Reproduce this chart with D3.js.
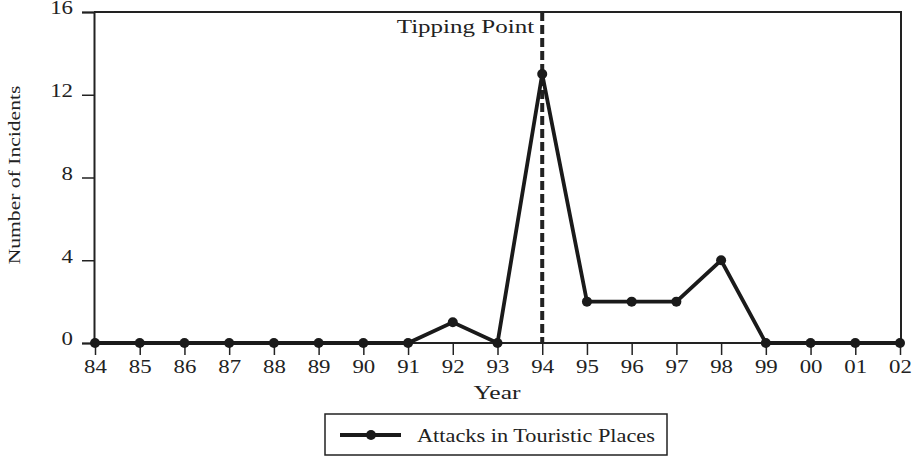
<!DOCTYPE html>
<html>
<head>
<script src="https://d3js.org/d3.v7.min.js"></script>
<style>
  body { margin: 0; background: white; }
  text { font-family: "Liberation Serif", "DejaVu Serif", serif; fill: #222; }
</style>
</head>
<body>
<svg width="913" height="458"></svg>
<script>
// chart data
var years = ["84","85","86","87","88","89","90","91","92","93","94","95","96","97","98","99","00","01","02"];
var incidents = [0,0,0,0,0,0,0,0,1,0,13,2,2,2,4,0,0,0,0];
var yTicks = [0,4,8,12,16];
var tippingYear = "94";
var seriesName = "Attacks in Touristic Places";

var svg = d3.select("svg");
var pLeft = 94, pRight = 901, pTop = 12, pBottom = 343;

var xs = d3.scalePoint().domain(years).range([pLeft + 1, pRight - 1]);
var ys = d3.scaleLinear().domain([0,16]).range([pBottom, pTop]);

// widen the text horizontally like the source (the type there is set wide)
function widen(sel, factor) {
    factor = factor || 1.27;
    sel.each(function() {
        var w = this.getComputedTextLength();
        d3.select(this).attr("textLength", w * factor).attr("lengthAdjust", "spacingAndGlyphs");
    });
}

// frame (top and right)
svg.append("path")
   .attr("d", "M" + pLeft + "," + pTop + "H" + pRight + "V" + pBottom)
   .attr("fill", "none")
   .attr("stroke", "#222")
   .attr("stroke-width", 2);

// y axis
var yAxis = svg.append("g")
   .attr("transform", "translate(" + pLeft + ",0)")
   .call(d3.axisLeft(ys).tickValues(yTicks).tickSize(12).tickPadding(9));
yAxis.select(".domain").attr("stroke", "#222").attr("stroke-width", 2);
yAxis.selectAll(".tick line").attr("stroke", "#222").attr("stroke-width", 1.5);
yAxis.selectAll(".tick text")
   .style("font-family", "Liberation Serif, serif")
   .style("font-size", "18px")
   .attr("fill", "#222")
   .attr("dy", "0.1em")
   .call(widen);

// x axis
var xAxis = svg.append("g")
   .attr("transform", "translate(0," + pBottom + ")")
   .call(d3.axisBottom(xs).tickSize(12).tickPadding(5));
xAxis.select(".domain").attr("d", "M" + pLeft + ",0H" + pRight).attr("stroke", "#222").attr("stroke-width", 2);
xAxis.selectAll(".tick line").attr("stroke", "#222").attr("stroke-width", 1.5);
xAxis.selectAll(".tick text")
   .style("font-family", "Liberation Serif, serif")
   .style("font-size", "18px")
   .attr("fill", "#222")
   .call(widen);

// axis titles
svg.append("text")
   .attr("x", 497).attr("y", 399)
   .attr("text-anchor", "middle")
   .style("font-size", "18px")
   .text("Year")
   .call(widen, 1.42);

svg.append("text")
   .attr("transform", "translate(20,175) rotate(-90)")
   .attr("text-anchor", "middle")
   .style("font-size", "17px")
   .text("Number of Incidents")
   .call(widen);

// tipping point
svg.append("line")
   .attr("x1", xs(tippingYear)).attr("x2", xs(tippingYear))
   .attr("y1", pTop).attr("y2", pBottom)
   .attr("stroke", "#222")
   .attr("stroke-width", 4)
   .attr("stroke-dasharray", "9,4");

svg.append("text")
   .attr("x", xs(tippingYear) - 8).attr("y", 33)
   .attr("text-anchor", "end")
   .style("font-size", "18px")
   .text("Tipping Point")
   .call(widen, 1.39);

// series line
var line = d3.line()
   .x(function(d, i) { return xs(years[i]); })
   .y(function(d) { return ys(d); });

svg.append("path")
   .datum(incidents)
   .attr("d", line)
   .attr("fill", "none")
   .attr("stroke", "#1a1a1a")
   .attr("stroke-width", 3.8)
   .attr("stroke-linejoin", "miter");

svg.append("g").selectAll("circle")
   .data(incidents)
   .enter()
   .append("circle")
   .attr("cx", function(d, i) { return xs(years[i]); })
   .attr("cy", function(d) { return ys(d); })
   .attr("r", 5)
   .attr("fill", "#1a1a1a");

// legend
var lg = svg.append("g");
lg.append("rect")
   .attr("x", 325).attr("y", 414)
   .attr("width", 342).attr("height", 41)
   .attr("fill", "white")
   .attr("stroke", "#222")
   .attr("stroke-width", 1.5);
lg.append("line")
   .attr("x1", 340).attr("x2", 401)
   .attr("y1", 435).attr("y2", 435)
   .attr("stroke", "#1a1a1a")
   .attr("stroke-width", 3.8);
lg.append("circle")
   .attr("cx", 371).attr("cy", 435).attr("r", 5)
   .attr("fill", "#1a1a1a");
lg.append("text")
   .attr("x", 417).attr("y", 442)
   .style("font-size", "18px")
   .text(seriesName)
   .call(widen, 1.24);
</script>
</body>
</html>
